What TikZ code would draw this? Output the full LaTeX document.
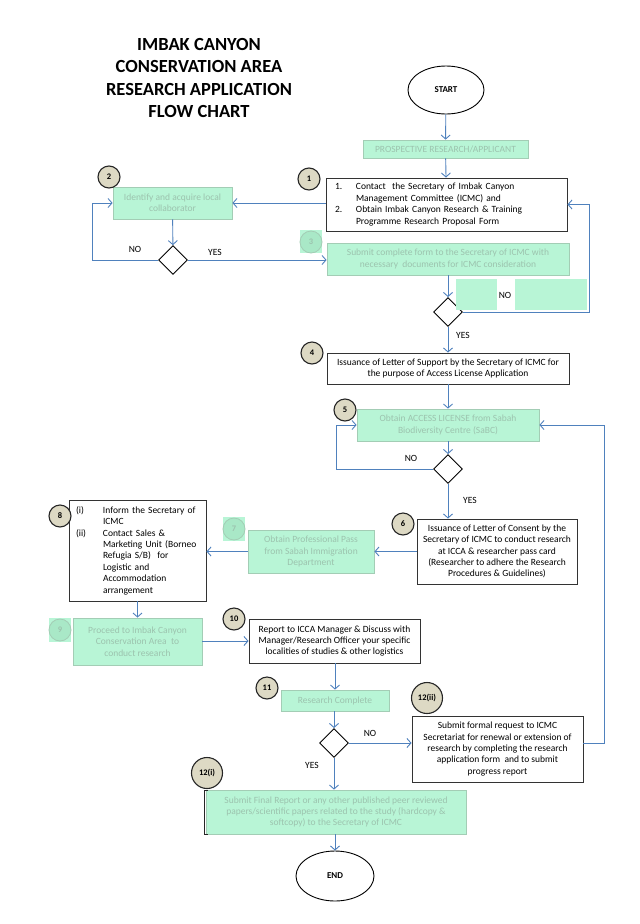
\documentclass[tikz,border=0pt]{standalone}
\usepackage{fontspec}
\setmainfont{Carlito}
\usepackage{tikz}
\usetikzlibrary{arrows.meta}
\usetikzlibrary{shapes.geometric}
\definecolor{boxgreen}{HTML}{B8F5D6}
\definecolor{greenedge}{HTML}{A3CDB5}
\definecolor{greentext}{HTML}{9CC3AE}
\definecolor{circfill}{HTML}{DDD9C4}
\definecolor{fadefill}{HTML}{A9E8C7}
\definecolor{flowblue}{HTML}{4F81BD}
\newcommand{\boxfont}{\fontsize{9.5}{11.4}\selectfont}

\begin{document}
\begin{tikzpicture}[x=1pt, y=-1pt,
		greenbox/.style={rectangle, fill=boxgreen, draw=greenedge, line width=0.8pt, text=greentext, align=center, inner sep=0mm, font=\boxfont},
		whitebox/.style={rectangle, fill=white, draw=black!80, line width=0.9pt, text=black, align=center, inner sep=0mm, font=\boxfont},
		numcirc/.style={circle, fill=circfill, draw=black!85, line width=1.1pt, minimum size=22pt, inner sep=0mm, font=\fontsize{8.5}{9}\selectfont\bfseries},
		fadecirc/.style={circle, fill=fadefill, draw=greenedge, line width=0.8pt, minimum size=22pt, inner sep=0mm, text=greentext, font=\fontsize{8.5}{9}\selectfont\bfseries},
		decision/.style={diamond, fill=white, draw=black, line width=0.9pt, minimum width=29pt, minimum height=29pt, inner sep=0mm},
		terminal/.style={ellipse, fill=white, draw=black, line width=0.9pt, font=\fontsize{9}{10}\selectfont\bfseries},
		lbl/.style={font=\boxfont, inner sep=0mm},
		flow/.style={draw=flowblue, line width=0.9pt, -{Straight Barb[length=4pt, width=9pt]}}]
		\useasboundingbox (0,0) rectangle (640,924);
		\fill[white] (0,0) rectangle (640,924);
		\node[align=center, font=\fontsize{18.5}{22.5}\selectfont\bfseries] (title) at (199,78) {IMBAK CANYON\\CONSERVATION AREA\\RESEARCH APPLICATION\\FLOW CHART};
		\node[terminal, minimum width=76pt, minimum height=48pt] (start) at (446,90) {START};
		\node[greenbox, minimum width=165pt, minimum height=18pt] (prospect) at (445.5,149) {PROSPECTIVE RESEARCH/APPLICANT};
		\node[whitebox, minimum width=241pt, minimum height=53pt, text width=223pt, align=left] (contact) at (446.5,204.5) {\makebox[21pt][l]{1.}Contact\ \ the Secretary of Imbak Canyon\\\hspace*{21pt}Management Committee (ICMC) and\\\makebox[21pt][l]{2.}Obtain Imbak Canyon Research \& Training\\\hspace*{21pt}Programme Research Proposal Form};
		\node[greenbox, minimum width=119pt, minimum height=32pt] (identify) at (172.5,203) {Identify and acquire local\\collaborator};
		\node[decision] (dec1) at (173,260) {};
		\node[greenbox, minimum width=242pt, minimum height=32pt] (submit) at (448,259) {Submit complete form to the Secretary of ICMC with\\necessary\ \ documents for ICMC consideration};
		\node[decision] (dec2) at (448,312) {};
		\fill[boxgreen] (456,279) rectangle (497,310);
		\fill[boxgreen] (515,279) rectangle (587,310);
		\node[whitebox, minimum width=242pt, minimum height=31pt] (support) at (448,368.5) {Issuance of Letter of Support by the Secretary of ICMC for\\the purpose of Access License Application};
		\node[greenbox, minimum width=182pt, minimum height=32pt] (license) at (448,425) {Obtain ACCESS LICENSE from Sabah\\Biodiversity Centre (SaBC)};
		\node[decision] (dec3) at (448,469) {};
		\node[whitebox, minimum width=160pt, minimum height=65pt] (consent) at (497,551.5) {Issuance of Letter of Consent by the\\Secretary of ICMC to conduct research\\at ICCA \& researcher pass card\\(Researcher to adhere the Research\\Procedures \& Guidelines)};
		\node[greenbox, minimum width=126pt, minimum height=43pt] (pass) at (311,551.5) {Obtain Professional Pass\\from Sabah Immigration\\Department};
		\node[whitebox, minimum width=137pt, minimum height=101pt, text width=123pt, align=left] (inform) at (137.5,550.5) {\makebox[27pt][l]{(i)}Inform the Secretary of\\\hspace*{27pt}ICMC\\\makebox[27pt][l]{(ii)}Contact Sales \&\\\hspace*{27pt}Marketing Unit (Borneo\\\hspace*{27pt}Refugia S/B)\ \ for\\\hspace*{27pt}Logistic and\\\hspace*{27pt}Accommodation\\\hspace*{27pt}arrangement};
		\node[greenbox, minimum width=129pt, minimum height=47pt] (proceed) at (137.5,641.5) {Proceed to Imbak Canyon\\Conservation Area\ \ to\\conduct research};
		\node[whitebox, minimum width=171pt, minimum height=44pt] (report) at (334.5,641) {Report to ICCA Manager \& Discuss with\\Manager/Research Officer your specific\\localities of studies \& other logistics};
		\node[greenbox, minimum width=108pt, minimum height=21pt] (complete) at (335,700.5) {Research Complete};
		\node[decision] (dec4) at (334,743) {};
		\node[whitebox, minimum width=171pt, minimum height=66pt] (renewal) at (497.5,749) {Submit formal request to ICMC\\Secretariat for renewal or extension of\\research by completing the research\\application form\ \ and to submit\\progress report};
		\node[greenbox, minimum width=260pt, minimum height=44pt] (final) at (336,812) {Submit Final Report or any other published peer reviewed\\papers/scientific papers related to the study (hardcopy \&\\softcopy) to the Secretary of ICMC};
		\draw[black!85, line width=0.9pt] (208,790) -- (204,790) -- (204,834) -- (208,834);
		\node[terminal, minimum width=78pt, minimum height=50pt] (end) at (335,876) {END};
		\fill[boxgreen] (300,230) rectangle (322,253);
		\fill[boxgreen] (223,517) rectangle (245,541);
		\fill[boxgreen] (49,618) rectangle (71,642);
		\node[numcirc] (c1) at (309,179) {1};
		\node[numcirc] (c2) at (109,177) {2};
		\node[fadecirc] (c3) at (311,242) {3};
		\node[numcirc] (c4) at (312,353) {4};
		\node[numcirc] (c5) at (345,410) {5};
		\node[numcirc] (c6) at (403,524) {6};
		\node[fadecirc] (c7) at (234,529) {7};
		\node[numcirc] (c8) at (60,516) {8};
		\node[fadecirc] (c9) at (60,630) {9};
		\node[numcirc] (c10) at (234,619) {10};
		\node[numcirc] (c11) at (267,688) {11};
		\node[numcirc, minimum size=31pt] (c12b) at (427,698) {12(ii)};
		\node[numcirc, minimum size=31pt] (c12a) at (207,773) {12(i)};
		\draw[flow] (start) -- (prospect);
		\draw[flow] (prospect) -- (contact);
		\draw[flow] (contact.west |- identify.east) -- (identify.east);
		\draw[flow] (identify) -- (dec1);
		\draw[flow] (dec1.west) -- (92,260) |- (identify.west);
		\draw[flow] (dec1.east) -- (submit.west |- dec1.east);
		\draw[flow] (submit.south -| dec2) -- (dec2.north);
		\draw[flow] (dec2.east) -- (589,312) |- (contact.east);
		\draw[flow] (dec2) -- (support);
		\draw[flow] (support) -- (license);
		\draw[flow] (license) -- (dec3);
		\draw[flow] (dec3.west) -- (336,469) |- (license.west);
		\draw[flow] (dec3.south) -- (dec3.south |- consent.north);
		\draw[flow] (consent.west) -- (pass.east);
		\draw[flow] (pass.west) -- (pass.west -| inform.east);
		\draw[flow] (inform.south -| proceed) -- (proceed.north);
		\draw[flow] (proceed.east |- report.west) -- (report.west);
		\draw[flow] (report.south -| complete) -- (complete.north);
		\draw[flow] (complete.south -| dec4) -- (dec4.north);
		\draw[flow] (dec4.east) -- (dec4.east -| renewal.west);
		\draw[flow] (dec4 -| renewal.east) -- (604,743) |- (license.east);
		\draw[flow] (dec4.south) -- (dec4.south |- final.north);
		\draw[flow] (final.south -| end) -- (end.north);
		\node[lbl] (no1) at (135,249) {NO};
		\node[lbl] (yes1) at (215,252) {YES};
		\node[lbl] (no2) at (505,295) {NO};
		\node[lbl] (yes2) at (463,335) {YES};
		\node[lbl] (no3) at (411,458) {NO};
		\node[lbl] (yes3) at (470,500) {YES};
		\node[lbl] (no4) at (370,733) {NO};
		\node[lbl] (yes4) at (312,765) {YES};
	\end{tikzpicture}
\end{document}
